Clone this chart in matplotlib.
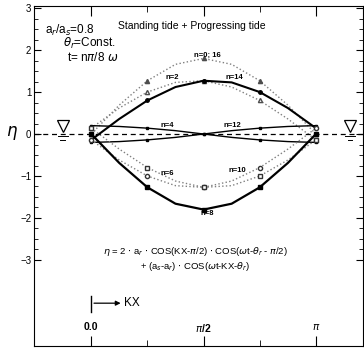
import numpy as np
import matplotlib
matplotlib.use('Agg')
import matplotlib.pyplot as plt
from matplotlib.ticker import FixedLocator

plt.rcParams['font.family'] = ['Liberation Sans', 'DejaVu Sans']

# KX 위치 (0 ~ pi, pi/8 간격)
kx = [0.0, np.pi/8, np.pi/4, 3*np.pi/8, np.pi/2, 5*np.pi/8, 3*np.pi/4, 7*np.pi/8, np.pi]

# 그림에서 읽은 수위 eta (n = 0..14, t = n*pi/8w)
eta_n0 = [0.0, 0.69, 1.27, 1.66, 1.80, 1.66, 1.27, 0.69, 0.0]
eta_n2 = [-0.14, 0.36, 0.80, 1.12, 1.27, 1.23, 1.00, 0.62, 0.14]
eta_n14 = [0.14, 0.62, 1.00, 1.23, 1.27, 1.12, 0.80, 0.36, -0.14]
eta_n4 = [-0.20, -0.18, -0.14, -0.08, 0.0, 0.08, 0.14, 0.18, 0.20]
eta_n12 = [0.20, 0.18, 0.14, 0.08, 0.0, -0.08, -0.14, -0.18, -0.20]
eta_n6 = [-0.14, -0.62, -1.00, -1.23, -1.27, -1.12, -0.80, -0.36, 0.14]
eta_n10 = [0.14, -0.36, -0.80, -1.12, -1.27, -1.23, -1.00, -0.62, -0.14]
eta_n8 = [0.0, -0.69, -1.27, -1.66, -1.80, -1.66, -1.27, -0.69, 0.0]

xtick_pos = [0.0, np.pi/2, np.pi]
xtick_lab = ['0.0', r'$\pi$/2', r'$\pi$']

fig = plt.figure(figsize=(3.64, 3.5), dpi=100)
ax = fig.add_axes([34/364, 4/350, 329/364, 340/350])

# 곡선
ax.plot(kx, eta_n0, ':', color='0.5', lw=1.0, marker='^', ms=3, mfc='0.3', mec='0.3', markevery=2)
ax.plot(kx, eta_n14, ':', color='0.5', lw=1.0, marker='^', ms=3, mfc='white', mec='0.3', markevery=2)
ax.plot(kx, eta_n2, '-', color='black', lw=1.5, marker='o', ms=2.5, markevery=2)
ax.plot(kx, eta_n4, '-', color='black', lw=1.0, marker='s', ms=2, markevery=2)
ax.plot(kx, eta_n12, '-', color='black', lw=1.0, marker='s', ms=2, markevery=2)
ax.plot(kx, eta_n6, ':', color='0.5', lw=1.0, marker='o', ms=3, mfc='white', mec='0.2', markevery=2)
ax.plot(kx, eta_n10, ':', color='0.5', lw=1.0, marker='s', ms=3, mfc='white', mec='0.2', markevery=2)
ax.plot(kx, eta_n8, '-', color='black', lw=1.6, marker='s', ms=2.5, markevery=2)

# 평균수위선
ax.axhline(0, ls='--', color='black', lw=0.9, dashes=(4, 3))

# 수위 기호
for xs, ys in [(-0.40, 0.19), (3.62, 0.19)]:
    ax.plot(xs, ys, marker='v', ms=9, mfc='white', mec='black', mew=0.9)
    ax.plot([xs-0.07, xs+0.07], [-0.05, -0.05], color='black', lw=0.7)
    ax.plot([xs-0.03, xs+0.03], [-0.14, -0.14], color='black', lw=0.7)

# 텍스트
ax.text(-0.64, 2.46, r'a$_r$/a$_s$=0.8', fontsize=8.5, va='center')
ax.text(-0.40, 2.15, r'$\theta_r$=Const.', fontsize=8.5, va='center')
ax.text(-0.34, 1.82, r't= n$\pi$/8 $\omega$', fontsize=8.5, va='center')
ax.text(1.40, 2.58, 'Standing tide + Progressing tide', fontsize=7.5, ha='center', va='center')

lab_kw = dict(fontsize=5.5, fontweight='bold', ha='center', va='center')
ax.text(1.62, 1.87, 'n=0; 16', **lab_kw)
ax.text(1.13, 1.35, 'n=2', **lab_kw)
ax.text(2.00, 1.35, 'n=14', **lab_kw)
ax.text(1.06, 0.20, 'n=4', **lab_kw)
ax.text(1.98, 0.20, 'n=12', **lab_kw)
ax.text(1.06, -0.94, 'n=6', **lab_kw)
ax.text(2.04, -0.87, 'n=10', **lab_kw)
ax.text(1.62, -1.89, 'n=8', **lab_kw)

ax.text(1.45, -2.80, r'$\eta$ = 2 $\cdot$ a$_r$ $\cdot$ COS(KX-$\pi$/2) $\cdot$ COS($\omega$t-$\theta_r$ - $\pi$/2)',
        fontsize=6.8, ha='center', va='center')
ax.text(1.45, -3.16, r'+ (a$_s$-a$_r$) $\cdot$ COS($\omega$t-KX-$\theta_r$)',
        fontsize=6.8, ha='center', va='center')

# KX 화살표
ax.plot([0, 0], [-3.85, -4.25], color='black', lw=1.0)
ax.annotate('', xy=(0.45, -4.03), xytext=(0, -4.03),
            arrowprops=dict(arrowstyle='-|>', color='black', lw=0.9, mutation_scale=7))
ax.text(0.46, -4.03, 'KX', fontsize=8.5, va='center')

fig.text(12/364, 1-133/350, r'$\eta$', fontsize=12, ha='center', va='center')

ax.set_xlim(-0.80, 3.80)
ax.set_ylim(-5.05, 3.05)
ax.set_xticks(xtick_pos)
ax.set_xticklabels(xtick_lab, fontsize=7.5, fontweight='bold')
ax.xaxis.set_minor_locator(FixedLocator([np.pi/4, 3*np.pi/4]))
ax.set_yticks([-3, -2, -1, 0, 1, 2, 3])
ax.yaxis.set_minor_locator(FixedLocator(np.arange(-3, 3.01, 0.25)))
ax.tick_params(axis='both', which='both', direction='in', top=True, right=True)
ax.tick_params(axis='x', which='major', length=7, pad=-17)
ax.tick_params(axis='x', which='minor', length=4)
ax.tick_params(axis='y', which='major', length=5, labelsize=7, pad=2)
ax.tick_params(axis='y', which='minor', length=3)

plt.savefig('out.png', dpi=100)
